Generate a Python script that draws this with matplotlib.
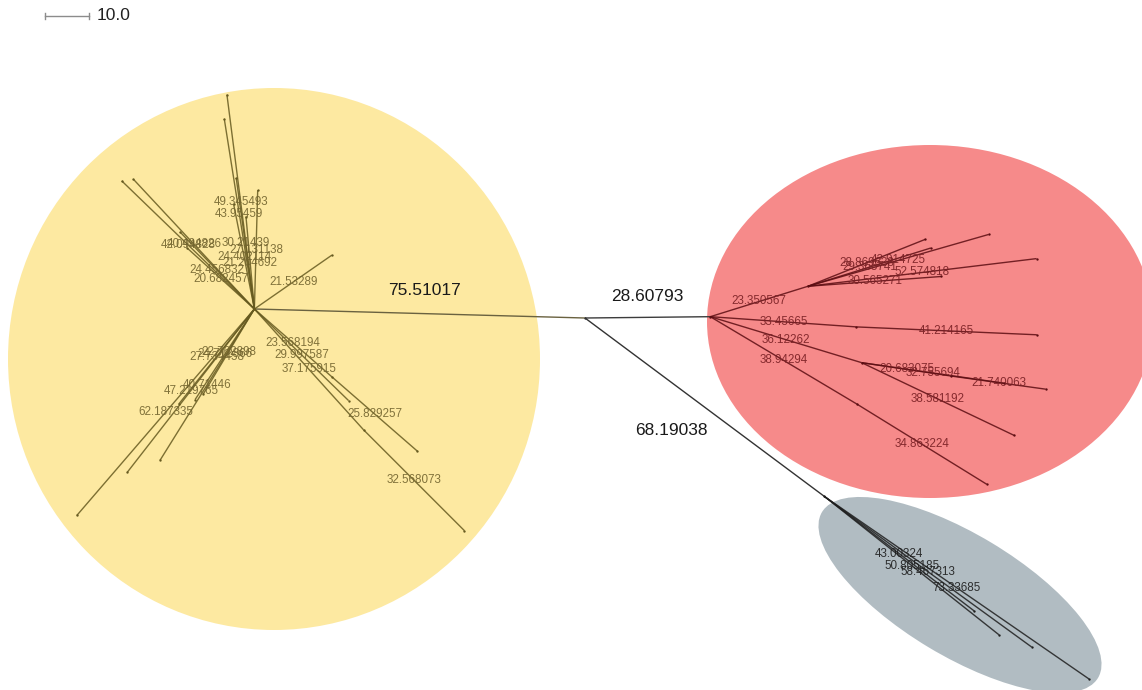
import numpy as np
import matplotlib
matplotlib.use("Agg")
import matplotlib.pyplot as plt
from matplotlib.patches import Ellipse

plt.rcParams['font.family'] = ['Liberation Sans', 'DejaVu Sans']

# ---------------- tree data ----------------
node_names = ["Y", "RD", "G",
              "y1", "y2", "y3", "y4", "y5", "y6", "y7", "y8", "y9", "y10", "y11",
              "y12", "y13", "y14", "y15", "y16", "y17", "yN3", "y18", "y19", "yN2", "y20",
              "rA", "r1", "r2", "r3", "r4", "r5", "rB", "r6", "rC", "rE", "r7", "r8", "r9",
              "rF", "r10",
              "g1", "g2", "g3", "g4"]
node_parents = ["root", "root", "root",
                "Y", "Y", "Y", "Y", "Y", "Y", "Y", "Y", "Y", "Y", "Y",
                "Y", "Y", "Y", "Y", "Y", "Y", "Y", "yN3", "Y", "Y", "yN2",
                "RD", "rA", "rA", "rA", "rA", "rA", "RD", "rB", "RD", "rC", "rE", "rC", "rC",
                "RD", "rF",
                "G", "G", "G", "G"]
branch_lengths = [75.51017, 28.60793, 68.19038,
                  49.345493, 43.95459, 30.21439, 27.131138, 24.402114, 21.204692, 21.53289,
                  42.094828, 40.494826, 24.456832, 20.682457,
                  62.187335, 47.219765, 40.71446, 22.762898, 27.734458, 24.712866,
                  23.568194, 25.829257, 29.997587, 37.175915, 32.568073,
                  23.350567, 28.869638, 42.914725, 29.365741, 52.574818, 30.565271,
                  33.45665, 41.214165, 36.12262, 20.683075, 21.740063, 32.755694, 38.581192,
                  38.94294, 34.863224,
                  43.00324, 50.805185, 58.467313, 73.33685]
clade_of = ["yellow", "red", "gray"] + ["yellow"] * 22 + ["red"] * 15 + ["gray"] * 4
scale_bar_value = 10.0

# ---------------- layout (branch directions, degrees) ----------------
branch_angles = [178.44, 0.6, -36.7,
                 97.3, 99.0, 97.9, 88.4, 101.2, 95.2, 34.8, 136.0, 133.0, 134.0, 137.8,
                 -130.7, -127.9, -121.95, -121.0, -128.5, -123.2, -41.2, -41.0, -44.2, -47.9, -45.0,
                 17.3, 21.8, 16.0, 17.3, 6.9, 4.2, -4.0, -2.5, -16.9, -8.5, -7.9, -8.2, -25.5,
                 -30.8, -31.7,
                 -37.4, -38.4, -36.0, -34.6]

W, H = 1142, 690
S = 4.38            # pixels per branch-length unit
ROOT_PX = (585, 318)

def px2d(px, py):
    return ((px - ROOT_PX[0]) / S, (ROOT_PX[1] - py) / S)

fig = plt.figure(figsize=(W / 100, H / 100), dpi=100)
ax = fig.add_axes([0, 0, 1, 1])
x0, y1 = px2d(0, 0)
x1, y0 = px2d(W, H)
ax.set_xlim(x0, x1)
ax.set_ylim(y0, y1)
ax.axis("off")

# clade background ellipses (pixel-space layout)
ell_specs = {
    "yellow": dict(c=(274, 359), w=532, h=542, ang=0, col="#fde9a1"),
    "red": dict(c=(930, 321.5), w=446, h=353, ang=0, col="#f68a8a"),
    "gray": dict(c=(960, 595), w=322, h=122, ang=-31, col="#b1bcc2"),
}
for k, e in ell_specs.items():
    ax.add_patch(Ellipse(px2d(*e["c"]), e["w"] / S, e["h"] / S, angle=e["ang"],
                         facecolor=e["col"], edgecolor="none", zorder=0))

line_col = {"yellow": "#665a1f", "red": "#5c0d12", "gray": "#1e1e1e"}
text_col = {"yellow": "#73652f", "red": "#7a2024", "gray": "#1e1e1e"}
main_line_col = {"Y": "#6a6240", "RD": "#3c3c3c", "G": "#333333"}
# offsets (pixels) for the three main-branch labels
main_label_off = {"Y": (5, -23), "RD": (0, -21), "G": (-33, 23)}

pos = {"root": (0.0, 0.0)}
for name, par, L, a, cl in zip(node_names, node_parents, branch_lengths, branch_angles, clade_of):
    px, py = pos[par]
    t = np.deg2rad(a)
    cx, cy = px + L * np.cos(t), py + L * np.sin(t)
    pos[name] = (cx, cy)
    mx, my = (px + cx) / 2, (py + cy) / 2
    if par == "root":
        ax.plot([px, cx], [py, cy], color=main_line_col[name], lw=1.0, zorder=2,
                solid_capstyle="butt")
        ox, oy = main_label_off[name]
        ax.text(mx + ox / S, my - oy / S, f"{L}", fontsize=12.5, color="#1a1a1a",
                ha="center", va="center", zorder=5)
    else:
        ax.plot([px, cx], [py, cy], color=line_col[cl], lw=1.0, alpha=0.85, zorder=2,
                solid_capstyle="butt")
        ax.text(mx, my, f"{L}", fontsize=8.4, color=text_col[cl], alpha=0.9,
                ha="center", va="center", zorder=4)
    ax.plot([cx], [cy], marker="o", ms=1.7, color=line_col[cl], mec="none", zorder=3)
ax.plot([0], [0], marker="o", ms=1.7, color="#333333", mec="none", zorder=3)

# scale bar
sx, sy = px2d(45, 16)
ax.plot([sx, sx + scale_bar_value], [sy, sy], color="#8c8c8c", lw=1.0)
tick = 3 / S
for xx in (sx, sx + scale_bar_value):
    ax.plot([xx, xx], [sy - tick, sy + tick], color="#8c8c8c", lw=1.0)
ax.text(sx + scale_bar_value + 8 / S, sy, f"{scale_bar_value}", fontsize=12.5,
        color="#222222", ha="left", va="center")

fig.savefig("out.png", dpi=100)
